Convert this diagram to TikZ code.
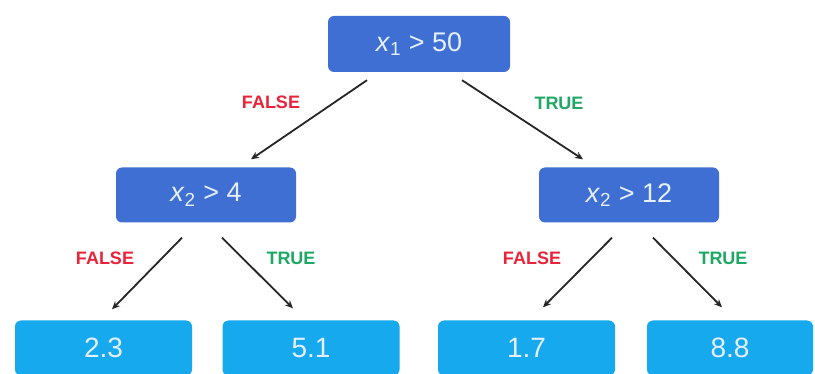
\documentclass[tikz,border=0pt]{standalone}
\usepackage{fontspec}
\setmainfont{Liberation Sans}
\usetikzlibrary{arrows.meta}
\definecolor{darkbox}{HTML}{3F6FD2}
\definecolor{leafbox}{HTML}{16A9EE}
\definecolor{boxtext}{HTML}{E4F0FF}
\definecolor{falsered}{HTML}{E8243A}
\definecolor{truegreen}{HTML}{1FA865}
\tikzset{
  inner/.style={fill=darkbox, rounded corners=6pt, minimum width=180pt, minimum height=55pt, inner sep=0pt, text=boxtext, font=\fontsize{27}{30}\selectfont},
  leaf/.style={fill=leafbox, rounded corners=6pt, minimum width=177pt, minimum height=55pt, inner sep=0pt, text=boxtext, font=\fontsize{28}{30}\selectfont},
  arr/.style={line width=1.8pt, draw=black!85, -{Stealth[length=8pt,width=7pt]}},
  flab/.style={text=falsered, font=\bfseries\fontsize{18}{20}\selectfont},
  tlab/.style={text=truegreen, font=\bfseries\fontsize{18}{20}\selectfont}
}
\begin{document}
\begin{tikzpicture}[x=1pt,y=-1pt]
\useasboundingbox[fill=white] (0,0) rectangle (815,374);
\node[inner, minimum width=182pt, minimum height=56pt] (root) at (419,44) {\textit{x}\textsubscript{1} > 50};
\node[inner] (lm) at (206,195) {\textit{x}\textsubscript{2} > 4};
\node[inner] (rm) at (629,195) {\textit{x}\textsubscript{2} > 12};
\node[leaf] (l1) at (103.5,348) {2.3};
\node[leaf] (l2) at (311,348) {5.1};
\node[leaf] (l3) at (526.5,348) {1.7};
\node[leaf, minimum width=166pt] (l4) at (730,348) {8.8};
\draw[arr] ([xshift=-52pt,yshift=-8pt]root.south) -- ([xshift=45pt,yshift=8pt]lm.north);
\draw[arr] ([xshift=43pt,yshift=-8pt]root.south) -- ([xshift=-46pt,yshift=8pt]rm.north);
\draw[arr] ([xshift=-24pt,yshift=-15pt]lm.south) -- ([xshift=8.5pt,yshift=11pt]l1.north);
\draw[arr] ([xshift=16pt,yshift=-15pt]lm.south) -- ([xshift=-18pt,yshift=12pt]l2.north);
\draw[arr] ([xshift=-17pt,yshift=-15pt]rm.south) -- ([xshift=16.5pt,yshift=13pt]l3.north);
\draw[arr] ([xshift=24pt,yshift=-15pt]rm.south) -- ([xshift=-8pt,yshift=13pt]l4.north);
\node[flab] (f1) at (271,102) {FALSE};
\node[tlab] (t1) at (559,103) {TRUE};
\node[flab] (f2) at (105,258) {FALSE};
\node[tlab] (t2) at (291,258) {TRUE};
\node[flab] (f3) at (532,258) {FALSE};
\node[tlab] (t3) at (723,258) {TRUE};
\end{tikzpicture}
\end{document}
